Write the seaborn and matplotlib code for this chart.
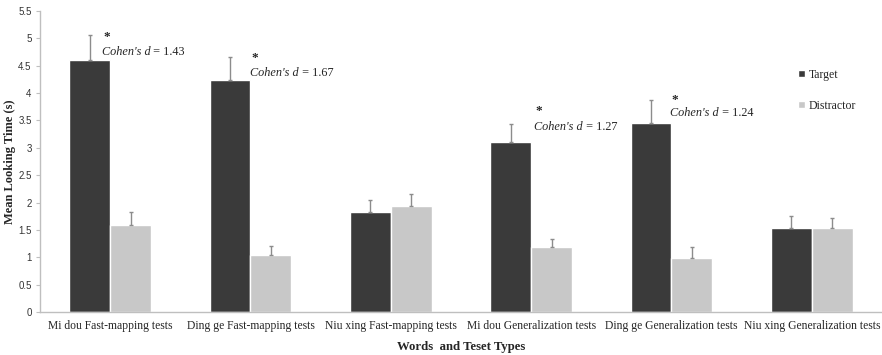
import numpy as np
import pandas as pd
import matplotlib
matplotlib.use("Agg")
import matplotlib.pyplot as plt
import seaborn as sns

tests = ["Mi dou Fast-mapping tests", "Ding ge Fast-mapping tests", "Niu xing Fast-mapping tests",
         "Mi dou Generalization tests", "Ding ge Generalization tests", "Niu xing Generalization tests"]
target = [4.61, 4.24, 1.83, 3.10, 3.45, 1.54]
target_err = [0.45, 0.42, 0.22, 0.33, 0.43, 0.21]
distractor = [1.59, 1.04, 1.94, 1.19, 0.99, 1.54]
distractor_err = [0.23, 0.17, 0.22, 0.15, 0.20, 0.17]

# effect size labels (only for significant pairs)
cohens_d = ["1.43", "1.67", None, "1.27", "1.24", None]
label_dx = [-0.06, 0.0, 0.0, 0.02, -0.01, 0.0]
star_y = [5.03, 4.64, None, 3.67, 3.88, None]
text_y = [4.75, 4.37, None, 3.38, 3.64, None]

df = pd.DataFrame({
    "test": tests * 2,
    "type": ["Target"] * 6 + ["Distractor"] * 6,
    "time": target + distractor,
})

sns.set_style("white")
plt.rcParams['font.family'] = ['Liberation Serif', 'DejaVu Serif']

fig = plt.figure(figsize=(8.82, 3.55), dpi=100)
ax = fig.add_axes([40 / 882, 43 / 355, 842 / 882, 301 / 355])

sns.barplot(data=df, x="test", y="time", hue="type", order=tests,
            hue_order=["Target", "Distractor"], palette=["#3a3a3a", "#c8c8c8"],
            width=0.58, gap=0, errorbar=None, saturation=1, ax=ax)

errs = [target_err, distractor_err]
for cont, err in zip(ax.containers, errs):
    xs = [p.get_x() + p.get_width() / 2 for p in cont.patches]
    ys = [p.get_height() for p in cont.patches]
    ax.errorbar(xs, ys, yerr=[np.zeros(len(err)), err], fmt="none",
                ecolor="#8c8c8c", elinewidth=1, capsize=1.2, capthick=1)

for i, d in enumerate(cohens_d):
    if d is None:
        continue
    x = i + label_dx[i]
    ax.text(x + 0.01, star_y[i], "*", fontsize=9.5, fontweight="bold", ha="left", va="center")
    t = ax.text(x, text_y[i], "Cohen's d", fontsize=8.8, style="italic", ha="left", va="center")
    ax.annotate(" = " + d, xy=(1, 0), xycoords=t, fontsize=8.8, ha="left", va="bottom")

ax.set_ylim(0, 5.5)
ax.set_xlim(-0.5, 5.5)
ax.set_yticks(np.arange(0, 5.51, 0.5))
ax.set_yticklabels([f"{v:g}" for v in np.arange(0, 5.51, 0.5)],
                   fontfamily="Liberation Sans", fontsize=7, color="#333333")
ax.tick_params(axis="y", length=3, width=0.8, color="#bfbfbf", pad=3, left=True)
ax.tick_params(axis="x", length=0, labelsize=8.4, pad=6)

sns.despine(ax=ax)
for s in ["left", "bottom"]:
    ax.spines[s].set_color("#bfbfbf")
    ax.spines[s].set_linewidth(1)

ax.set_xlabel("Words  and Teset Types", fontsize=9.2, fontweight="bold", labelpad=6)
ax.set_ylabel("Mean Looking Time (s)", fontsize=9, fontweight="bold", labelpad=2)

handles, labels = ax.get_legend_handles_labels()
ax.legend(handles, labels, frameon=False, loc=(0.895, 0.65), fontsize=8.5,
          handlelength=0.6, handleheight=0.6, labelspacing=1.6, handletextpad=0.3)

fig.savefig("out.png", dpi=100)
